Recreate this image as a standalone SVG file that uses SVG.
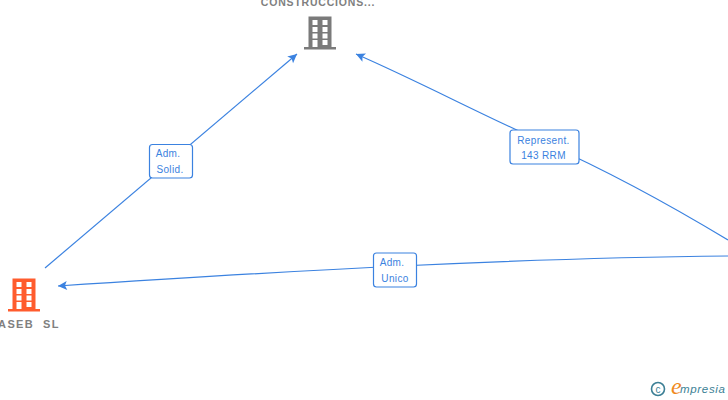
<svg xmlns="http://www.w3.org/2000/svg" width="728" height="400" viewBox="0 0 728 400">
<style>
.edge{fill:none;stroke:#3b82e0;stroke-width:1.2}
.lb{fill:#fff;stroke:#3b82e0;stroke-width:1.2}
.lt{font-family:"Liberation Sans",Arial,sans-serif;font-size:10px;fill:#3b82e0;text-anchor:middle;letter-spacing:.35px}
.nt{font-family:"Liberation Sans",Arial,sans-serif;font-size:10.5px;font-weight:bold;fill:#808080;text-anchor:middle;letter-spacing:.8px}
.big{font-size:11px;letter-spacing:1.4px}
.w{fill:#fff}
</style>
<defs>
<marker id="ah" markerUnits="userSpaceOnUse" markerWidth="11" markerHeight="12" refX="10" refY="6" orient="auto"><path d="M1 1.500L10 6L1 10.500L3 6Z" fill="#3b82e0"/></marker>
<g id="bld">
<path d="M-16 16.500V14H-11.500V-16.500H11.500V14H16V16.500Z"/>
<rect class="w" x="-7.500" y="-13" width="5" height="5"/><rect class="w" x="2.500" y="-13" width="5" height="5"/>
<rect class="w" x="-7.500" y="-6" width="5" height="5"/><rect class="w" x="2.500" y="-6" width="5" height="5"/>
<rect class="w" x="-7.500" y="0.500" width="5" height="5"/><rect class="w" x="2.500" y="0.500" width="5" height="5"/>
<rect class="w" x="-7.500" y="7" width="5" height="7"/><rect class="w" x="2.500" y="7" width="5" height="5"/>
</g>
</defs>
<g id="connectors">
<path class="edge" d="M45 268L297 54" marker-end="url(#ah)"/>
<path class="edge" d="M728 240C670 205 610 172 545 143S420 82 356 54" marker-end="url(#ah)"/>
<path class="edge" d="M728 256C520 258 300 270 58 286" marker-end="url(#ah)"/>
</g>
<g id="label-solid"><rect class="lb" x="149.500" y="144.500" width="43" height="33.500" rx="3"/><text class="lt" x="168" y="157">Adm.</text><text class="lt" x="170" y="172.500">Solid.</text></g>
<g id="label-rep"><rect class="lb" x="510" y="130" width="69" height="34" rx="3"/><text class="lt" x="543.500" y="143.500">Represent.</text><text class="lt" x="543.500" y="158.500">143 RRM</text></g>
<g id="label-unico"><rect class="lb" x="373.500" y="253" width="43" height="34" rx="3"/><text class="lt" x="392" y="266">Adm.</text><text class="lt" x="395" y="281.500">Unico</text></g>
<g id="node-construcciones"><use href="#bld" x="320" y="33" fill="#7a7a7a"/><text class="nt" x="318" y="6">CONSTRUCCIONS...</text></g>
<g id="node-aseb"><use href="#bld" x="24" y="295" fill="#ff5c2e"/><text class="nt big" x="29" y="328" xml:space="preserve">ASEB  SL</text></g>
<g id="logo">
<circle cx="658" cy="389" r="6.500" fill="none" stroke="#3c7f95" stroke-width="1.600"/>
<text x="658" y="392.500" font-family="Liberation Sans,sans-serif" font-size="10" fill="#3c7f95" text-anchor="middle">c</text>
<text x="671" y="394" font-family="Liberation Serif,serif" font-style="italic" font-size="24" fill="#f08a1d">e</text>
<text x="680" y="393" font-family="Liberation Sans,sans-serif" font-style="italic" font-size="11.500" fill="#3c7f95" textLength="45">mpresia</text>
</g>
</svg>
